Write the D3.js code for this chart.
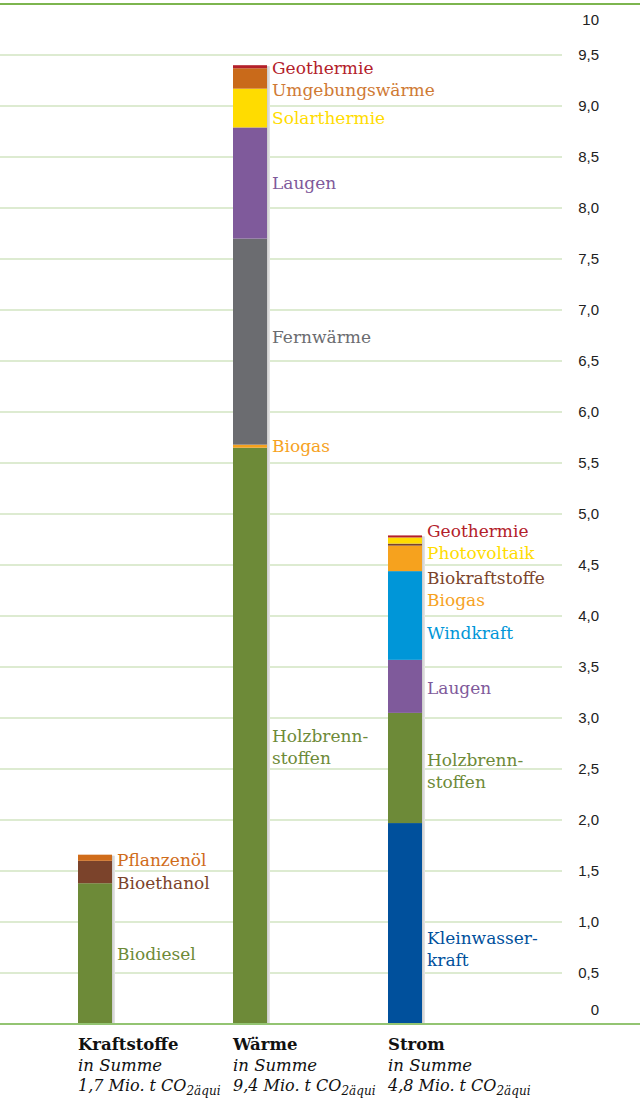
<!DOCTYPE html>
<html><head><meta charset="utf-8">
<script src="https://cdn.jsdelivr.net/npm/d3@7"></script>
<style>body{margin:0;background:#fff}svg{display:block}</style>
</head><body>
<svg id="c" width="640" height="1101"></svg>
<script>
const categories = ["Kraftstoffe", "Wärme", "Strom"];
const totals = ["1,7", "9,4", "4,8"];
const kraftstoffeSources = ["Biodiesel", "Bioethanol", "Pflanzenöl"];
const kraftstoffeValues = [1.38, 0.22, 0.06];
const waermeSources = ["Holzbrennstoffe", "Biogas", "Fernwärme", "Laugen", "Solarthermie", "Umgebungswärme", "Geothermie"];
const waermeValues = [5.65, 0.03, 2.02, 1.09, 0.38, 0.20, 0.03];
const stromSources = ["Kleinwasserkraft", "Holzbrennstoffe", "Laugen", "Windkraft", "Biogas", "Biokraftstoffe", "Photovoltaik", "Geothermie"];
const stromValues = [1.97, 1.08, 0.52, 0.87, 0.25, 0.02, 0.06, 0.02];
const tickValues = [0, 0.5, 1, 1.5, 2, 2.5, 3, 3.5, 4, 4.5, 5, 5.5, 6, 6.5, 7, 7.5, 8, 8.5, 9, 9.5, 10];
const tickLabels = ["0", "0,5", "1,0", "1,5", "2,0", "2,5", "3,0", "3,5", "4,0", "4,5", "5,0", "5,5", "6,0", "6,5", "7,0", "7,5", "8,0", "8,5", "9,0", "9,5", "10"];

// display text for segment labels
const labelText = {
  "Holzbrennstoffe": ["Holzbrenn-", "stoffen"],
  "Kleinwasserkraft": ["Kleinwasser-", "kraft"]
};
const colors = {
  "Biodiesel": "#6d8a38", "Bioethanol": "#7b432b", "Pflanzenöl": "#d06c1a",
  "Holzbrennstoffe": "#6d8a38", "Biogas": "#f6a21e", "Fernwärme": "#6b6c70",
  "Laugen": "#7f5a9b", "Solarthermie": "#ffdc00", "Umgebungswärme": "#c96a1a",
  "Geothermie": "#b3202a", "Kleinwasserkraft": "#00509c", "Windkraft": "#0096d8",
  "Biokraftstoffe": "#7b432b", "Photovoltaik": "#ffdc00"
};
const textColors = Object.assign({}, colors, {"Umgebungswärme": "#cf7a34"});
// label vertical nudges (px) relative to segment middle
const labelNudge = [
  {"Biodiesel": 0, "Bioethanol": 11, "Pflanzenöl": 2},
  {"Holzbrennstoffe": 11, "Biogas": 0, "Fernwärme": -5, "Laugen": 0, "Solarthermie": 10, "Umgebungswärme": 12, "Geothermie": 1},
  {"Kleinwasserkraft": 26, "Holzbrennstoffe": 3, "Laugen": 2, "Windkraft": 18, "Biogas": 42, "Biokraftstoffe": 33, "Photovoltaik": 13, "Geothermie": -5}
];

const stacks = [
  {sources: kraftstoffeSources, values: kraftstoffeValues},
  {sources: waermeSources, values: waermeValues},
  {sources: stromSources, values: stromValues}
];

const svg = d3.select("#c");
const W = 640;
const y = d3.scaleLinear().domain([0, 10]).range([1024, 4]);
const x = d3.scaleBand().domain(categories).range([78, 422]).paddingInner(121/155).paddingOuter(0);

// gridlines
svg.append("g").selectAll("line").data(tickValues.filter(v => v > 0 && v < 10)).join("line")
  .attr("x1", 0).attr("x2", 562).attr("y1", d => y(d)).attr("y2", d => y(d))
  .attr("stroke", "#d2e5c2").attr("stroke-width", 1.3);

// tick labels
svg.append("g").selectAll("text").data(tickValues).join("text")
  .attr("x", 599)
  .attr("y", (d) => d === 10 ? y(d) + 16 : d === 0 ? y(d) - 14 : y(d))
  .attr("dy", "0.35em")
  .attr("text-anchor", "end")
  .attr("font-family", "Liberation Sans, Arial, sans-serif")
  .attr("font-size", 15)
  .attr("fill", "#222")
  .text((d, i) => tickLabels[i]);

// stacks
stacks.forEach((s, si) => {
  const cat = categories[si];
  const g = svg.append("g");
  let acc = 0;
  const segs = s.values.map((v, i) => { const o = {name: s.sources[i], y0: acc, y1: acc + v}; acc += v; return o; });
  // shadow
  g.append("rect").attr("x", x(cat) + x.bandwidth()).attr("width", 3)
    .attr("y", y(acc) + 1).attr("height", y(0) - y(acc) - 1).attr("fill", "#e2e2e2");
  g.append("rect").attr("x", x(cat) + x.bandwidth()).attr("width", 1.5)
    .attr("y", y(acc) + 1).attr("height", y(0) - y(acc) - 1).attr("fill", "#cfcfcf");
  g.selectAll("rect.seg").data(segs).join("rect").attr("class", "seg")
    .attr("x", x(cat)).attr("width", x.bandwidth())
    .attr("y", d => y(d.y1)).attr("height", d => y(d.y0) - y(d.y1))
    .attr("fill", d => colors[d.name]);
  // labels
  segs.forEach(d => {
    const lines = labelText[d.name] || [d.name];
    const mid = (y(d.y0) + y(d.y1)) / 2 + labelNudge[si][d.name];
    const t = g.append("text")
      .attr("x", x(cat) + x.bandwidth() + 5)
      .attr("font-family", "DejaVu Serif, serif")
      .attr("font-size", 17)
      .attr("fill", textColors[d.name]);
    lines.forEach((ln, li) => {
      t.append("tspan").attr("x", x(cat) + x.bandwidth() + 5)
        .attr("y", mid + (li - (lines.length - 1) / 2) * 22)
        .attr("dy", "0.35em").text(ln);
    });
  });
});

// top line and baseline
svg.append("line").attr("x1", 0).attr("x2", W).attr("y1", y(10)).attr("y2", y(10))
  .attr("stroke", "#7db54f").attr("stroke-width", 2);
svg.append("line").attr("x1", 0).attr("x2", W).attr("y1", y(0)).attr("y2", y(0))
  .attr("stroke", "#93c472").attr("stroke-width", 2);

// category labels
categories.forEach((c, i) => {
  const g = svg.append("g").attr("font-family", "DejaVu Serif, serif").attr("fill", "#111");
  g.append("text").attr("x", x(c)).attr("y", 1050).attr("font-size", 16.5).attr("font-weight", "bold").text(c);
  g.append("text").attr("x", x(c)).attr("y", 1071).attr("font-size", 16.5).attr("font-style", "italic").text("in Summe");
  const t = g.append("text").attr("x", x(c)).attr("y", 1091).attr("font-size", 16).attr("font-style", "italic");
  t.append("tspan").text(totals[i] + " Mio. t CO");
  t.append("tspan").attr("font-size", 12).attr("dy", 4).text("2äqui");
});
</script>
</body></html>
